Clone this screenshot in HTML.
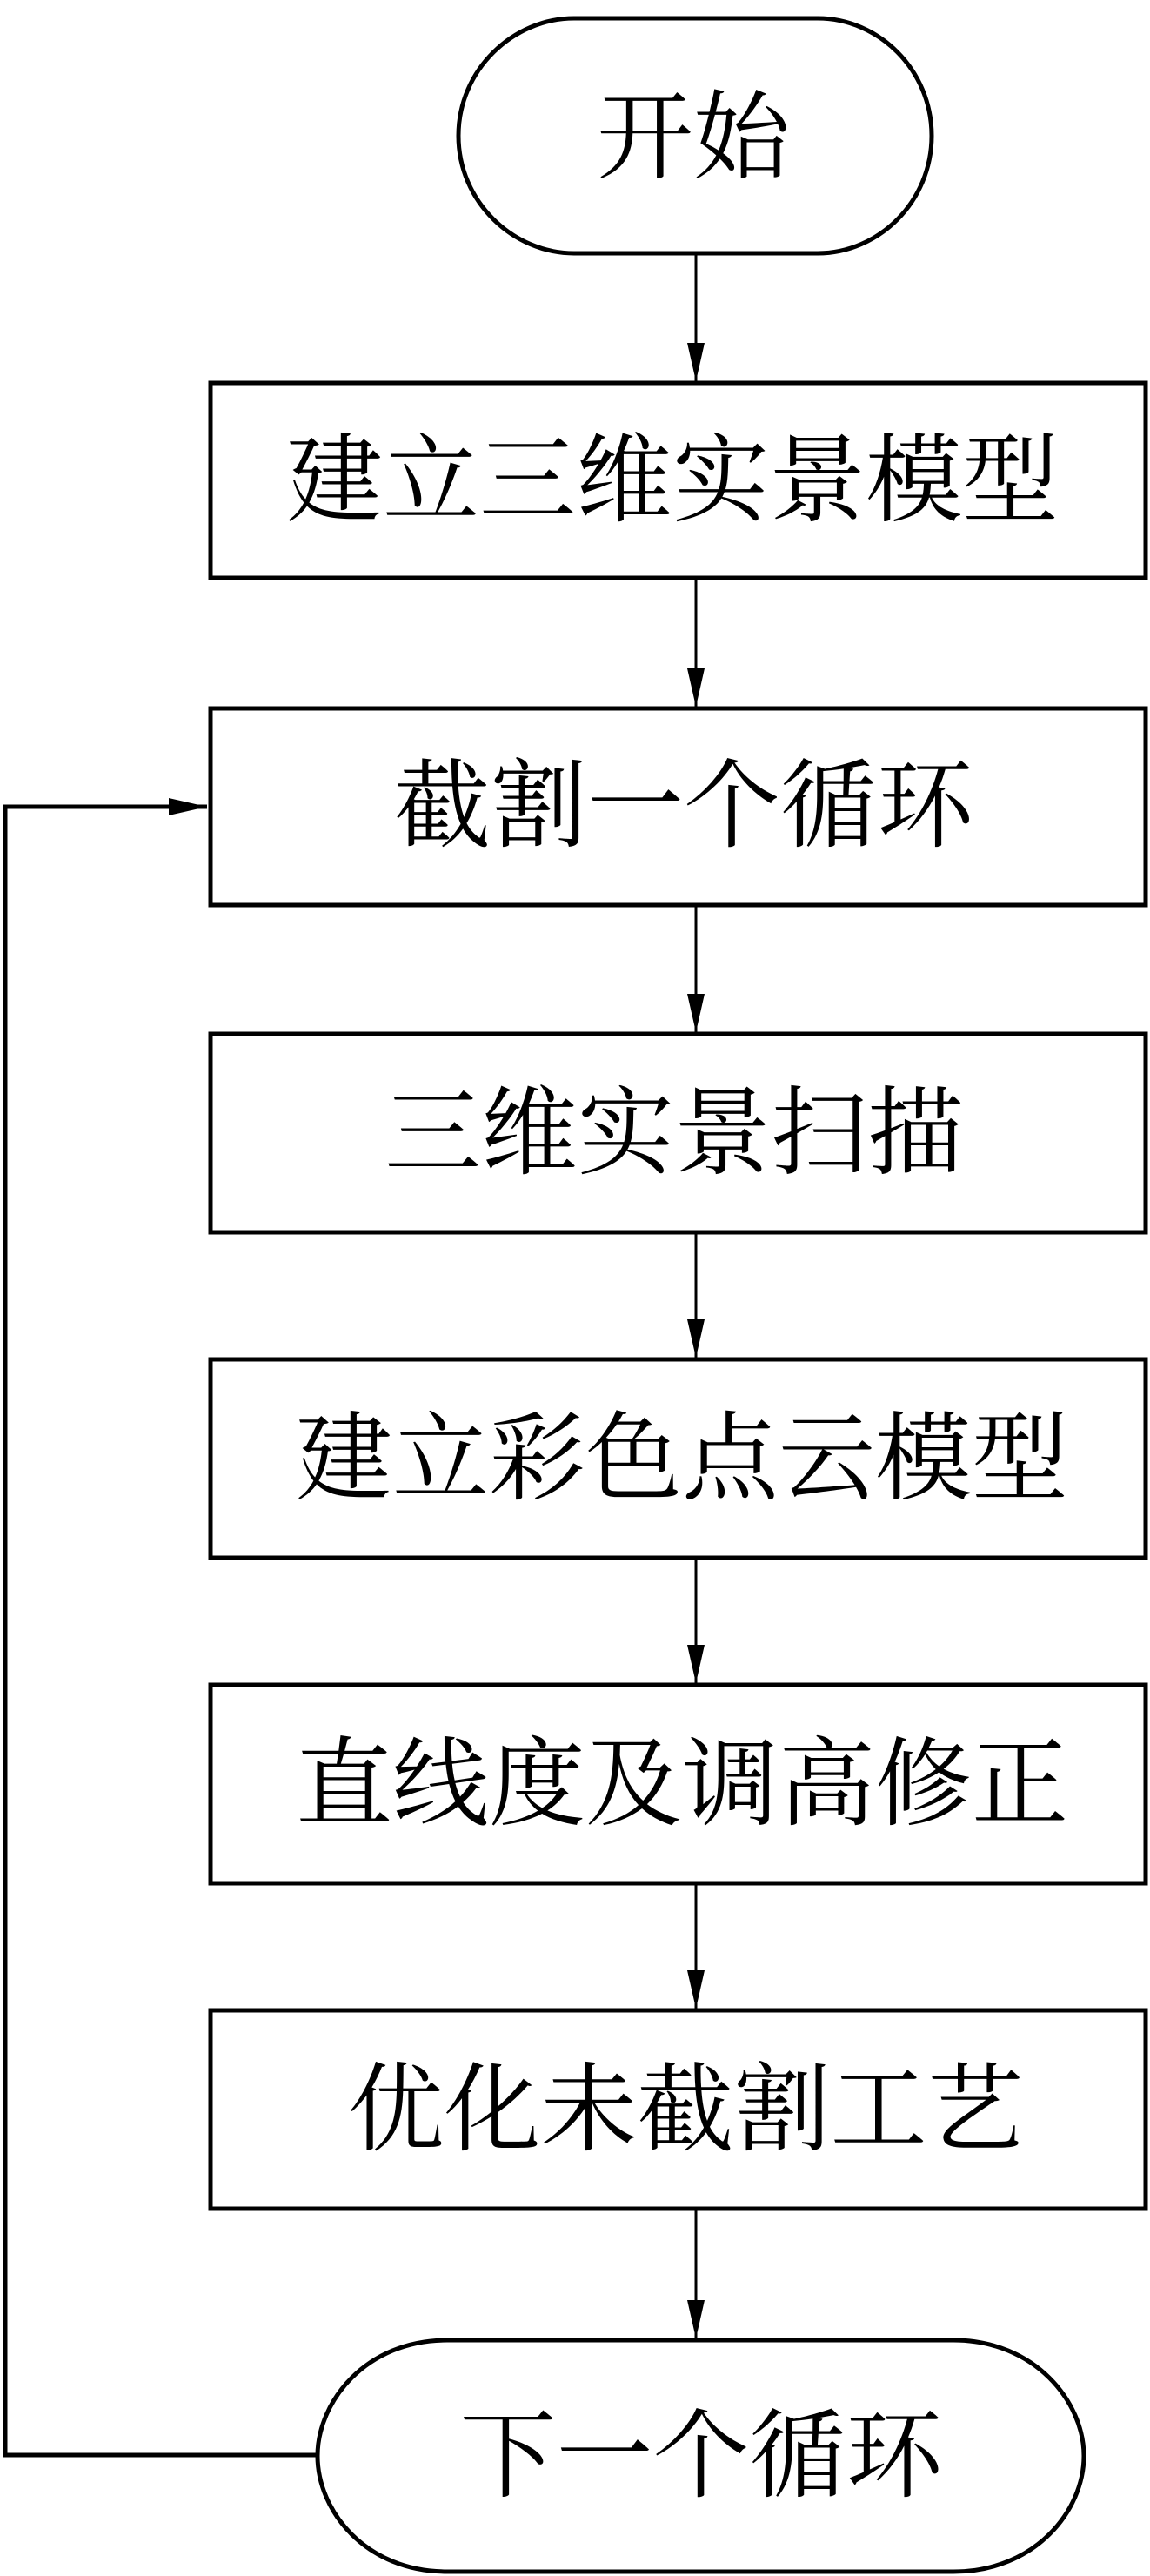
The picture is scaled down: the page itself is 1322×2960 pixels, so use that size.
<!DOCTYPE html>
<html><head><meta charset="utf-8"><style>
html,body{margin:0;padding:0;background:#fff;}
svg{display:block;}
text{font-family:"Liberation Serif","Noto Serif CJK SC",serif;font-size:111px;fill:#000;}
</style></head><body>
<svg width="1322" height="2960" viewBox="0 0 1322 2960" xmlns="http://www.w3.org/2000/svg">
<defs><marker id="a" markerWidth="44" markerHeight="20" refX="44" refY="10" orient="auto" markerUnits="userSpaceOnUse"><path d="M0,0 L44,10 L0,20 Z" fill="#000"/></marker></defs>
<g fill="none" stroke="#000" stroke-width="5">
<path d="M660,21 L940,21 C1010,21 1071,80 1071,156 C1071,232 1010,291 940,291 L660,291 C590,291 527,232 527,156 C527,80 590,21 660,21 Z"/>
<rect x="242" y="440" width="1075" height="224"/>
<rect x="242" y="814" width="1075" height="226"/>
<rect x="242" y="1188" width="1075" height="228"/>
<rect x="242" y="1562" width="1075" height="228"/>
<rect x="242" y="1936" width="1075" height="228"/>
<rect x="242" y="2310" width="1075" height="228"/>
<path d="M514,2689 L1096,2689 C1190,2689 1246,2760 1246,2822 C1246,2885 1190,2955 1096,2955 L514,2955 C420,2955 365,2885 365,2822 C365,2760 420,2689 514,2689 Z"/>
</g>
<g stroke="#000" stroke-width="3" fill="none">
<line x1="800" y1="293" x2="800" y2="438" marker-end="url(#a)"/>
<line x1="800" y1="666" x2="800" y2="812" marker-end="url(#a)"/>
<line x1="800" y1="1042" x2="800" y2="1186" marker-end="url(#a)"/>
<line x1="800" y1="1418" x2="800" y2="1560" marker-end="url(#a)"/>
<line x1="800" y1="1792" x2="800" y2="1934" marker-end="url(#a)"/>
<line x1="800" y1="2166" x2="800" y2="2308" marker-end="url(#a)"/>
<line x1="800" y1="2540" x2="800" y2="2687" marker-end="url(#a)"/>
</g>
<path d="M365,2821 L6,2821 L6,927 L238,927" fill="none" stroke="#000" stroke-width="5" marker-end="url(#a)"/>
<g text-anchor="middle">
<text x="797" y="196">开始</text>
<text x="773" y="590">建立三维实景模型</text>
<text x="786" y="964">截割一个循环</text>
<text x="775" y="1340">三维实景扫描</text>
<text x="784" y="1714">建立彩色点云模型</text>
<text x="784" y="2088">直线度及调高修正</text>
<text x="788" y="2462">优化未截割工艺</text>
<text x="806" y="2860">下一个循环</text>
</g>
</svg>
</body></html>
